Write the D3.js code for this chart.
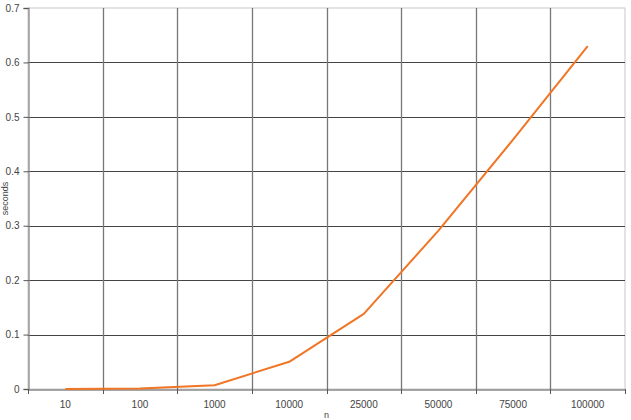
<!DOCTYPE html>
<html><head><meta charset="utf-8">
<script src="https://cdn.jsdelivr.net/npm/d3@7"></script>
<style>body{margin:0;background:#fff}text{font-family:"Liberation Sans",Arial,sans-serif}</style>
</head><body><svg id="c" width="631" height="420"></svg>
<script>
const categories = ["10","100","1000","10000","25000","50000","75000","100000"];
const seconds = [0, 0.0008, 0.007, 0.05, 0.138, 0.291, 0.458, 0.63];
const yTicks = [0,0.1,0.2,0.3,0.4,0.5,0.6,0.7];

const svg = d3.select("#c");
const m = {l:28, r:6, t:8, b:31};
const W = 631, H = 420;
const x = d3.scaleBand().domain(categories).range([m.l, W-m.r]);
const y = d3.scaleLinear().domain([0,0.7]).range([H-m.b, m.t]);

svg.append("rect").attr("x",m.l).attr("y",m.t).attr("width",W-m.r-m.l).attr("height",H-m.b-m.t)
  .attr("fill","none").attr("stroke","#c8c8c8");

svg.append("g").selectAll("line").data(yTicks.slice(1,-1)).join("line")
  .attr("x1",m.l).attr("x2",W-m.r).attr("y1",d=>Math.round(y(d))+0.5).attr("y2",d=>Math.round(y(d))+0.5)
  .attr("stroke","#444").attr("stroke-width",1);
const bounds = categories.slice(1).map(c=>x(c));
svg.append("g").selectAll("line").data(bounds).join("line")
  .attr("x1",d=>Math.round(d)+0.5).attr("x2",d=>Math.round(d)+0.5).attr("y1",m.t).attr("y2",H-m.b)
  .attr("stroke","#777").attr("stroke-width",1.3);

const ya = svg.append("g").attr("transform",`translate(${m.l+0.5},0)`)
  .call(d3.axisLeft(y).tickValues(yTicks).tickFormat(d3.format("")).tickSize(5).tickPadding(4));
ya.select(".domain").attr("stroke","#888").attr("stroke-width",1.3);
ya.selectAll(".tick line").attr("stroke","#555");
ya.selectAll(".tick text").attr("fill","#444").attr("font-size","10px");

const xa = svg.append("g").attr("transform",`translate(0,${Math.round(H-m.b)+0.5})`)
  .call(d3.axisBottom(x).tickSize(0).tickPadding(11));
xa.select(".domain").attr("stroke","#888").attr("stroke-width",1.3);
xa.selectAll(".tick text").attr("fill","#444").attr("font-size","10px");
svg.append("g").selectAll("line").data([m.l, ...bounds, W-m.r]).join("line")
  .attr("x1",d=>Math.round(d)+0.5).attr("x2",d=>Math.round(d)+0.5)
  .attr("y1",H-m.b).attr("y2",H-m.b+5).attr("stroke","#555");

svg.append("path").datum(categories.map((c,i)=>[c,seconds[i]]))
  .attr("fill","none").attr("stroke","#f07524").attr("stroke-width",2).attr("stroke-linejoin","round")
  .attr("d", d3.line().x(d=>x(d[0])+x.bandwidth()/2).y(d=>y(d[1])));

svg.append("text").attr("transform",`translate(8,${(m.t+H-m.b)/2}) rotate(-90)`)
  .attr("text-anchor","middle").attr("font-size","9px").attr("fill","#444").text("seconds");
svg.append("text").attr("x",(m.l+W-m.r)/2).attr("y",418).attr("text-anchor","middle")
  .attr("font-size","9px").attr("fill","#444").text("n");
</script></body></html>
